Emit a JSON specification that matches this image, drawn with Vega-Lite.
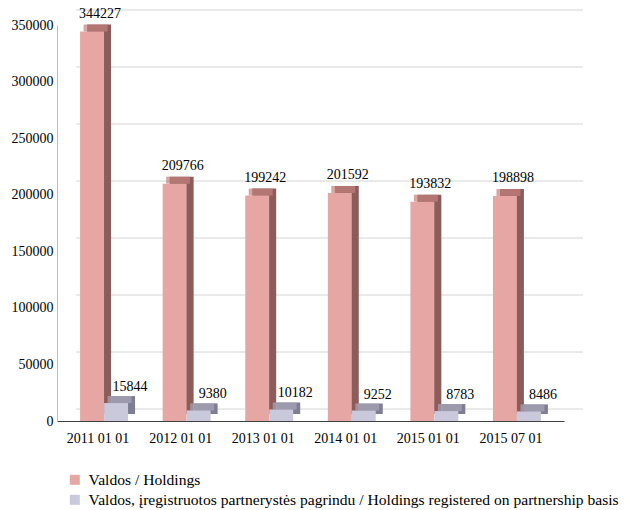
{
  "$schema": "https://vega.github.io/schema/vega-lite/v6.json",
  "autosize": "none",
  "width": 507,
  "height": 396,
  "padding": {"left": 57, "top": 25, "right": 67, "bottom": 89},
  "background": "white",
  "config": {
    "view": {"stroke": null},
    "font": "Times New Roman, Liberation Serif, DejaVu Serif, serif",
    "axis": {"labelFont": "Times New Roman, Liberation Serif, DejaVu Serif, serif", "labelFontSize": 14, "labelColor": "#000000"},
    "legend": {"labelFont": "Times New Roman, Liberation Serif, DejaVu Serif, serif", "labelFontSize": 15.6, "labelColor": "#000000"},
    "text": {"font": "Times New Roman, Liberation Serif, DejaVu Serif, serif"}
  },
  "data": {
    "values": [
      {"date": "2011 01 01", "series": "Valdos / Holdings", "value": 344227},
      {"date": "2012 01 01", "series": "Valdos / Holdings", "value": 209766},
      {"date": "2013 01 01", "series": "Valdos / Holdings", "value": 199242},
      {"date": "2014 01 01", "series": "Valdos / Holdings", "value": 201592},
      {"date": "2015 01 01", "series": "Valdos / Holdings", "value": 193832},
      {"date": "2015 07 01", "series": "Valdos / Holdings", "value": 198898},
      {"date": "2011 01 01", "series": "Valdos, įregistruotos partnerystės pagrindu / Holdings registered on partnership basis", "value": 15844},
      {"date": "2012 01 01", "series": "Valdos, įregistruotos partnerystės pagrindu / Holdings registered on partnership basis", "value": 9380},
      {"date": "2013 01 01", "series": "Valdos, įregistruotos partnerystės pagrindu / Holdings registered on partnership basis", "value": 10182},
      {"date": "2014 01 01", "series": "Valdos, įregistruotos partnerystės pagrindu / Holdings registered on partnership basis", "value": 9252},
      {"date": "2015 01 01", "series": "Valdos, įregistruotos partnerystės pagrindu / Holdings registered on partnership basis", "value": 8783},
      {"date": "2015 07 01", "series": "Valdos, įregistruotos partnerystės pagrindu / Holdings registered on partnership basis", "value": 8486}
    ]
  },
  "encoding": {
    "x": {
      "field": "date", "type": "nominal",
      "scale": {"paddingInner": 0.42, "paddingOuter": 0.28},
      "axis": {"title": null, "labelAngle": 0, "ticks": false, "domainColor": "#404040", "labelPadding": 10, "labelOffset": -6}
    }
  },
  "layer": [
    {
      "mark": {"type": "bar", "opacity": 0},
      "encoding": {
        "y": {
          "field": "value", "type": "quantitative",
          "scale": {"domain": [0, 350000], "nice": false, "range": [365, -34]},
          "axis": {"title": null, "orient": "right", "values": [0, 50000, 100000, 150000, 200000, 250000, 300000, 350000], "labels": false, "ticks": false, "domain": false, "grid": true, "gridColor": "#d4d4d4", "translate": 19}
        }
      }
    },
    {
      "encoding": {
        "y": {
          "field": "value", "type": "quantitative",
          "scale": {"domain": [0, 350000], "nice": false},
          "axis": {"title": null, "values": [0, 50000, 100000, 150000, 200000, 250000, 300000, 350000], "format": "d", "ticks": false, "grid": false, "domainColor": "#bdbdbd", "labelPadding": 4}
        }
      },
      "layer": [
        {
          "transform": [{"filter": "datum.series === 'Valdos / Holdings'"}],
          "mark": {"type": "bar", "width": {"band": 0.5}, "xOffset": -5, "yOffset": -7, "color": "#8a5c5a"}
        },
        {
          "transform": [{"filter": "datum.series === 'Valdos / Holdings'"}],
          "mark": {"type": "tick", "orient": "horizontal", "thickness": 7, "size": 24, "xOffset": -8.5, "yOffset": -3.5, "color": "#c4827e"}
        },
        {
          "transform": [{"filter": "datum.series !== 'Valdos / Holdings'"}],
          "mark": {"type": "bar", "width": {"band": 0.5}, "xOffset": 19, "yOffset": -7, "color": "#7f7d91"}
        },
        {
          "transform": [{"filter": "datum.series !== 'Valdos / Holdings'"}],
          "mark": {"type": "tick", "orient": "horizontal", "thickness": 7, "size": 24, "xOffset": 15.5, "yOffset": -3.5, "color": "#a9a6ba"}
        },
        {
          "transform": [{"filter": "datum.series === 'Valdos / Holdings'"}],
          "mark": {"type": "bar", "width": {"band": 0.5}, "xOffset": -12},
          "encoding": {
            "color": {"field": "series", "type": "nominal", "sort": null,
              "scale": {"domain": ["Valdos / Holdings", "Valdos, įregistruotos partnerystės pagrindu / Holdings registered on partnership basis"], "range": ["#e6a6a3", "#cac9dc"]},
              "legend": {"title": null, "orient": "none", "legendX": 10, "legendY": 447, "symbolType": "square", "symbolSize": 100, "symbolStrokeWidth": 0, "rowPadding": 3, "labelOffset": 6, "padding": 0, "labelLimit": 0}}
          }
        },
        {
          "transform": [{"filter": "datum.series !== 'Valdos / Holdings'"}],
          "mark": {"type": "bar", "width": {"band": 0.5}, "xOffset": 12},
          "encoding": {
            "color": {"field": "series", "type": "nominal", "sort": null}
          }
        },
        {
          "transform": [{"filter": "datum.series === 'Valdos / Holdings'"}],
          "mark": {"type": "text", "xOffset": -12, "dx": 8, "dy": -14, "baseline": "alphabetic", "fontSize": 14, "color": "#000000"},
          "encoding": {"text": {"field": "value", "type": "quantitative", "format": "d"}}
        },
        {
          "transform": [{"filter": "datum.series !== 'Valdos / Holdings'"}],
          "mark": {"type": "text", "xOffset": 12, "dx": 14, "dy": -12, "baseline": "alphabetic", "fontSize": 14, "color": "#000000"},
          "encoding": {"text": {"field": "value", "type": "quantitative", "format": "d"}}
        }
      ]
    }
  ],
  "resolve": {"scale": {"y": "independent"}, "axis": {"y": "independent"}}
}
